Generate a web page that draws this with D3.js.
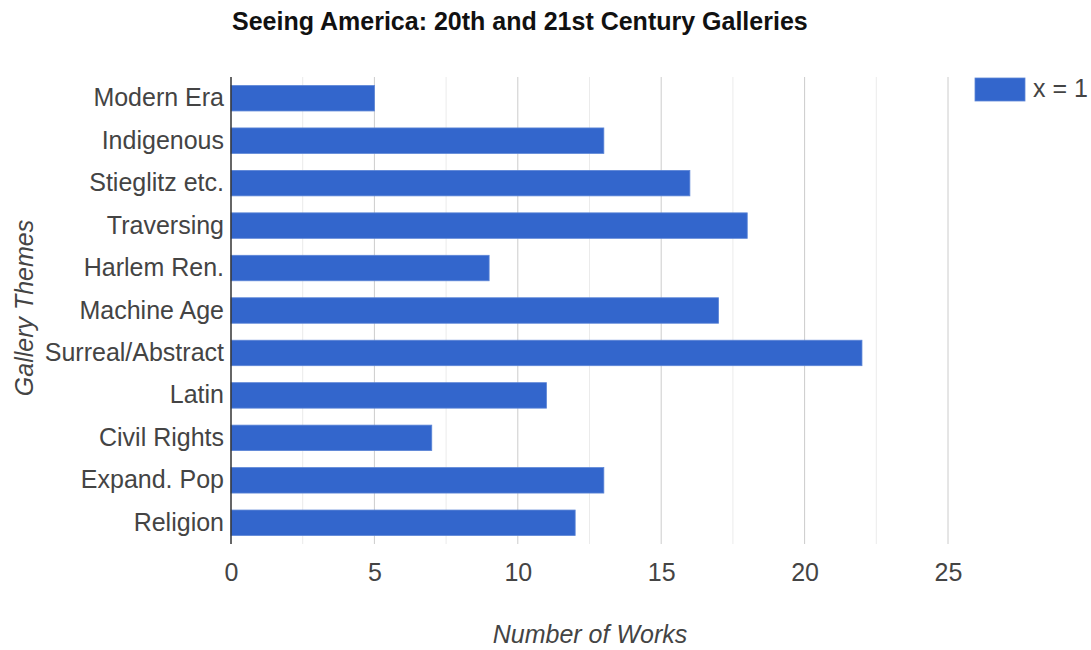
<!DOCTYPE html>
<html><head><meta charset="utf-8">
<script src="https://cdn.jsdelivr.net/npm/d3@7"></script>
<style>body{margin:0;background:#fff;font-family:Arial,'Liberation Sans',sans-serif}</style>
</head><body><svg id="c" width="1091" height="650"></svg>
<script>
const categories = ["Modern Era","Indigenous","Stieglitz etc.","Traversing","Harlem Ren.","Machine Age","Surreal/Abstract","Latin","Civil Rights","Expand. Pop","Religion"];
const values = [5,13,16,18,9,17,22,11,7,13,12];
const majorTicks = [0,5,10,15,20,25];
const minorTicks = [2.5,7.5,12.5,17.5,22.5];
const seriesName = "x = 1";
const titleText = "Seeing America: 20th and 21st Century Galleries";

const FF = "Arial, 'Liberation Sans', sans-serif";
const FS = 25;
const svg = d3.select("#c");
const L = 231, R = 948, T = 77, B = 544;
const x = d3.scaleLinear().domain([0,25]).range([L,R]);
const y = d3.scaleBand().domain(categories).range([T,B]).paddingInner(0.4).paddingOuter(0.2);

svg.append("text").attr("x",L+1).attr("y",30).attr("font-family",FF)
  .attr("font-weight","bold").attr("font-size",FS).attr("fill","#111").text(titleText);

svg.selectAll(".minor").data(minorTicks).join("line")
  .attr("x1",d=>x(d)).attr("x2",d=>x(d)).attr("y1",T).attr("y2",B).attr("stroke","#ebebeb");
svg.selectAll(".major").data(majorTicks.slice(1)).join("line")
  .attr("x1",d=>x(d)).attr("x2",d=>x(d)).attr("y1",T).attr("y2",B).attr("stroke","#cccccc");

svg.selectAll(".bar").data(categories).join("rect")
  .attr("x",x(0)).attr("y",d=>y(d)).attr("width",(d,i)=>x(values[i])-x(0)).attr("height",y.bandwidth())
  .attr("fill","#3366cc").attr("stroke","#5c85d6").attr("stroke-width",0.8);

svg.append("line").attr("x1",x(0)).attr("x2",x(0)).attr("y1",T).attr("y2",B).attr("stroke","#333").attr("stroke-width",1.5);

const xa = d3.axisBottom(x).tickValues(majorTicks).tickSize(0).tickPadding(0);
const gx = svg.append("g").attr("transform",`translate(0,${B})`).call(xa);
gx.select(".domain").remove();
gx.selectAll("text").attr("y",37).attr("dy",0).attr("font-size",FS).attr("font-family",FF).attr("fill","#444");

const ya = d3.axisLeft(y).tickSize(0).tickPadding(7);
const gy = svg.append("g").attr("transform",`translate(${L},0)`).call(ya);
gy.select(".domain").remove();
gy.selectAll("text").attr("font-size",FS).attr("font-family",FF).attr("fill","#444");

svg.append("text").attr("x",590).attr("y",643).attr("text-anchor","middle").attr("font-style","italic")
  .attr("font-size",FS).attr("fill","#444").attr("font-family",FF).text("Number of Works");
svg.append("text").attr("transform","translate(33,308) rotate(-90)").attr("text-anchor","middle").attr("font-style","italic")
  .attr("font-size",FS).attr("fill","#444").attr("font-family",FF).text("Gallery Themes");

svg.append("rect").attr("x",975).attr("y",78).attr("width",50).attr("height",23).attr("fill","#3366cc").attr("stroke","#5c85d6").attr("stroke-width",0.8);
svg.append("text").attr("x",1033).attr("y",97).attr("font-size",FS).attr("fill","#444").attr("font-family",FF).text(seriesName);
</script></body></html>
